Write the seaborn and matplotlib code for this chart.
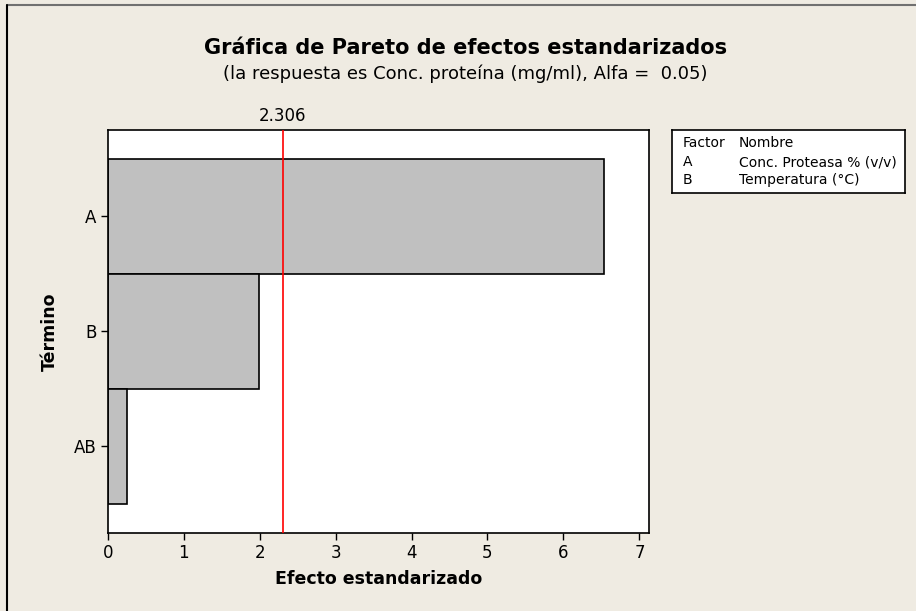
import matplotlib
matplotlib.use("Agg")
import matplotlib.pyplot as plt
import matplotlib.transforms as mtransforms
from matplotlib.lines import Line2D
import pandas as pd
import seaborn as sns

# --- Data ---
terms = ["A", "B", "AB"]
effects = [6.54, 1.99, 0.26]
critical_value = 2.306
legend_factors = ["A", "B"]
legend_names = ["Conc. Proteasa % (v/v)", "Temperatura (\u00b0C)"]

df = pd.DataFrame({"Término": terms, "Efecto": effects})

# --- Style ---
sns.set_style("white")
plt.rcParams['font.family'] = ['DejaVu Sans']
plt.rcParams['text.color'] = 'black'
plt.rcParams['axes.labelcolor'] = 'black'
bg = "#EFEBE2"

fig = plt.figure(figsize=(9.16, 6.11), dpi=100, facecolor=bg)
ax = fig.add_axes([0.1176, 0.1282, 0.5912, 0.659])
ax.set_facecolor("white")

sns.barplot(data=df, x="Efecto", y="Término", order=terms, orient="h",
            width=1.0, color="#C0C0C0", edgecolor="black", linewidth=1.2,
            saturation=1, ax=ax)

ax.set_xlim(0, 7.13)
ax.set_ylim(2.75, -0.75)
ax.set_xticks(range(8))

# reference line for the critical t value
ax.axvline(critical_value, color="red", linewidth=1.2, zorder=3)
trans = mtransforms.blended_transform_factory(ax.transData, ax.transAxes)
ax.text(critical_value, 1.012, "2.306", transform=trans, ha="center", va="bottom", fontsize=12)

for s in ax.spines.values():
    s.set_color("black")
    s.set_linewidth(1.2)
ax.tick_params(axis="both", direction="out", length=5, width=1, colors="black",
               labelsize=12, bottom=True, left=True)
ax.tick_params(axis="x", pad=3)
ax.tick_params(axis="y", pad=3)

ax.set_xlabel("Efecto estandarizado", fontsize=12.5, fontweight="bold", labelpad=6)
ax.set_ylabel("Término", fontsize=12.5, fontweight="bold", labelpad=11)

# --- Titles ---
fig.text(0.508, 0.921, "Gráfica de Pareto de efectos estandarizados",
         ha="center", va="center", fontsize=15, fontweight="bold")
fig.text(0.508, 0.879, "(la respuesta es Conc. proteína (mg/ml), Alfa =  0.05)",
         ha="center", va="center", fontsize=13)

# --- Legend box with factor names ---
lax = fig.add_axes([672 / 916, 1 - 193 / 611, (905 - 672) / 916, (193 - 129.7) / 611])
lax.set_xticks([])
lax.set_yticks([])
lax.set_facecolor("white")
for s in lax.spines.values():
    s.set_color("black")
    s.set_linewidth(1.2)
rows_y = [143, 162, 180]
fs = 10
lax.text(10.5 / 233, 1 - (rows_y[0] - 129.7) / 63.3, "Factor", va="center", fontsize=fs, transform=lax.transAxes)
lax.text(67 / 233, 1 - (rows_y[0] - 129.7) / 63.3, "Nombre", va="center", fontsize=fs, transform=lax.transAxes)
for f, n, y in zip(legend_factors, legend_names, rows_y[1:]):
    yy = 1 - (y - 129.7) / 63.3
    lax.text(10.5 / 233, yy, f, va="center", fontsize=fs, transform=lax.transAxes)
    lax.text(67 / 233, yy, n, va="center", fontsize=fs, transform=lax.transAxes)

# --- Figure frame (top and left edges only) ---
fig.add_artist(Line2D([7 / 916, 1], [1 - 4.5 / 611, 1 - 4.5 / 611], color="#707070", linewidth=1.5))
fig.add_artist(Line2D([7 / 916, 7 / 916], [0, 1 - 4.5 / 611], color="black", linewidth=1.5))

fig.savefig("out.png", dpi=100, facecolor=bg)
